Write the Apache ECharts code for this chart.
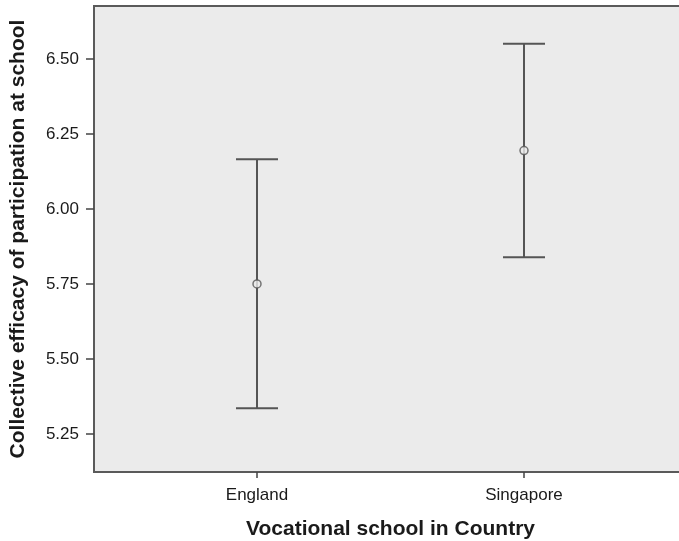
<!DOCTYPE html>
<html>
<head>
<meta charset="utf-8">
<script src="https://cdn.jsdelivr.net/npm/echarts@6/dist/echarts.min.js"></script>
<style>
  html, body { margin: 0; padding: 0; background: #fff; }
  #chart { width: 679px; height: 541px; }
</style>
</head>
<body>
<div id="chart"></div>
<script>
// group means with 95% CI
const countries = ['England', 'Singapore'];
const means = [5.75, 6.195];
const lower = [5.336, 5.839];
const upper = [6.166, 6.551];
const yTicks = [5.25, 5.5, 5.75, 6.0, 6.25, 6.5];

const font = 'Liberation Sans, Arial, sans-serif';
const ink = '#555';

let errData = countries.map((c, i) => [i, lower[i], upper[i]]);
let meanData = countries.map((c, i) => [i, means[i]]);

let chart = echarts.init(document.getElementById('chart'));
chart.setOption({
    animation: false,
    grid: {
        left: 94,
        top: 6,
        width: 593,
        bottom: 69,
        outerBoundsMode: 'none',
        show: true,
        backgroundColor: '#ebebeb',
        borderColor: '#5a5a5a',
        borderWidth: 2
    },
    xAxis: {
        type: 'value',
        min: -0.6105,
        max: 1.6105,
        name: 'Vocational school in Country',
        nameLocation: 'middle',
        nameGap: 47,
        nameTextStyle: { fontFamily: font, fontSize: 21, fontWeight: 'bold', color: '#1a1a1a' },
        axisLine: { show: false, onZero: false },
        splitLine: { show: false },
        axisTick: {
            show: true,
            length: 6,
            customValues: countries.map((c, i) => i),
            lineStyle: { color: '#444', width: 1.5 }
        },
        axisLabel: {
            customValues: countries.map((c, i) => i),
            formatter: v => countries[Math.round(v)],
            margin: 15,
            fontFamily: font,
            fontSize: 17,
            color: '#1a1a1a'
        }
    },
    yAxis: {
        type: 'value',
        min: 5.123,
        max: 6.677,
        name: 'Collective efficacy of participation at school',
        nameLocation: 'middle',
        nameGap: 65,
        nameTextStyle: { fontFamily: font, fontSize: 21, fontWeight: 'bold', color: '#1a1a1a' },
        axisLine: { show: false, onZero: false },
        splitLine: { show: false },
        axisTick: {
            show: true,
            length: 8,
            customValues: yTicks,
            lineStyle: { color: '#444', width: 1.5 }
        },
        axisLabel: {
            customValues: yTicks,
            formatter: v => v.toFixed(2),
            margin: 15,
            fontFamily: font,
            fontSize: 17,
            color: '#1a1a1a'
        }
    },
    series: [{
        type: 'custom',
        data: errData,
        renderItem: function (params, api) {
            let x = api.value(0);
            let top = api.coord([x, api.value(2)]);
            let bot = api.coord([x, api.value(1)]);
            let hw = 21;
            let style = { stroke: ink, lineWidth: 2 };
            return {
                type: 'group',
                children: [
                    { type: 'line', shape: { x1: top[0], y1: top[1], x2: bot[0], y2: bot[1] }, style: style },
                    { type: 'line', shape: { x1: top[0] - hw, y1: top[1], x2: top[0] + hw, y2: top[1] }, style: style },
                    { type: 'line', shape: { x1: bot[0] - hw, y1: bot[1], x2: bot[0] + hw, y2: bot[1] }, style: style }
                ]
            };
        }
    }, {
        type: 'scatter',
        data: meanData,
        symbol: 'circle',
        symbolSize: 8,
        itemStyle: { color: '#ebebeb', borderColor: ink, borderWidth: 1.5 },
        z: 5
    }]
});
</script>
</body>
</html>
